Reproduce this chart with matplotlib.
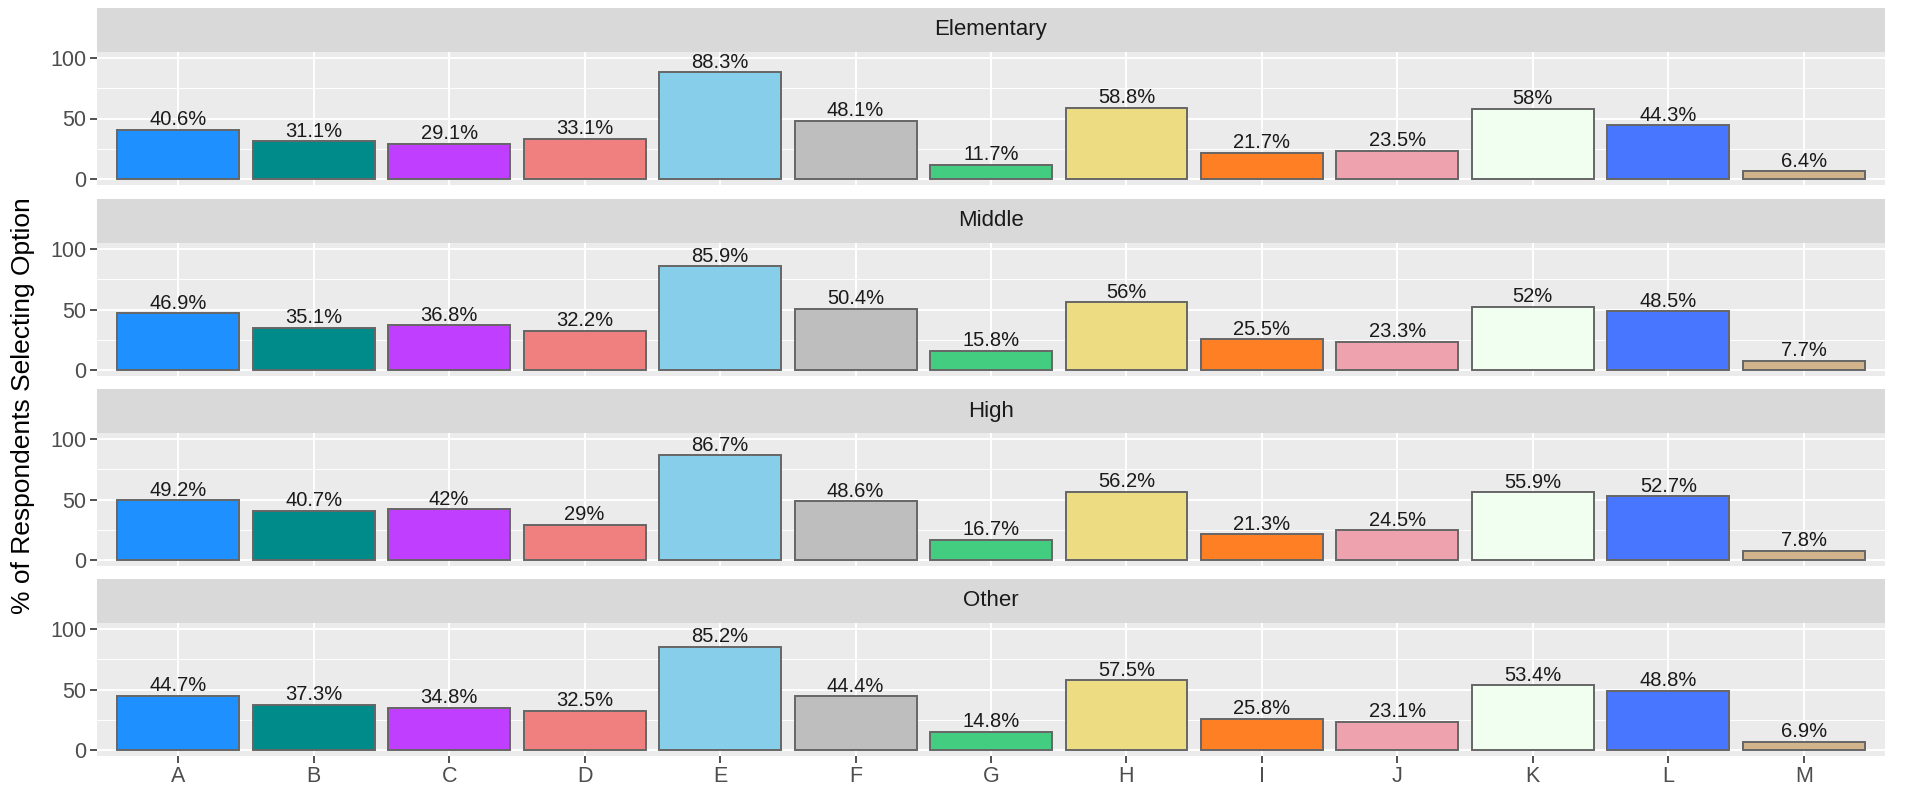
import matplotlib
matplotlib.use("Agg")
from matplotlib import pyplot as plt
import numpy as np

plt.rcParams['font.family'] = ['Liberation Sans', 'DejaVu Sans']

options = ["A", "B", "C", "D", "E", "F", "G", "H", "I", "J", "K", "L", "M"]
levels = ["Elementary", "Middle", "High", "Other"]

elementary = [40.6, 31.1, 29.1, 33.1, 88.3, 48.1, 11.7, 58.8, 21.7, 23.5, 58, 44.3, 6.4]
middle = [46.9, 35.1, 36.8, 32.2, 85.9, 50.4, 15.8, 56, 25.5, 23.3, 52, 48.5, 7.7]
high = [49.2, 40.7, 42, 29, 86.7, 48.6, 16.7, 56.2, 21.3, 24.5, 55.9, 52.7, 7.8]
other = [44.7, 37.3, 34.8, 32.5, 85.2, 44.4, 14.8, 57.5, 25.8, 23.1, 53.4, 48.8, 6.9]

bar_colors = ["#1E90FF", "#008B8B", "#BF3EFF", "#F08080", "#87CEEB", "#BEBEBE",
              "#43CD80", "#EEDC82", "#FF7F24", "#EEA2AD", "#F0FFF0", "#4876FF", "#D2B48C"]

W, H = 1909, 790
fig = plt.figure(figsize=(W / 100, H / 100), dpi=100)

left = 97 / W
width = (1885 - 97) / W
panel_h = 133 / H
strip_h = 44 / H
panel_bottoms = [185, 376, 566, 756]

x = np.arange(len(options))
for i, (name, vals) in enumerate(zip(levels, [elementary, middle, high, other])):
    bottom = 1 - panel_bottoms[i] / H
    ax = fig.add_axes([left, bottom, width, panel_h])
    ax.set_facecolor("#EBEBEB")
    ax.bar(x, vals, width=0.9, color=bar_colors, edgecolor="#666666", linewidth=1.4, zorder=3)
    for xi, v in zip(x, vals):
        ax.annotate(f"{v:g}%", (xi, v), xytext=(0, 3.3), textcoords="offset points",
                    ha="center", va="baseline", fontsize=14.5, color="#1A1A1A", zorder=4)
    ax.set_xlim(-0.6, len(options) - 0.4)
    ax.set_ylim(-5, 105)
    ax.set_yticks([0, 50, 100])
    ax.set_yticks([25, 75], minor=True)
    ax.set_xticks(x)
    ax.grid(True, which="major", color="white", linewidth=1.4, zorder=0)
    ax.grid(True, which="minor", axis="y", color="white", linewidth=0.7, zorder=0)
    for s in ax.spines.values():
        s.set_visible(False)
    ax.tick_params(axis="both", which="major", length=5, color="#333333", width=1.2,
                   labelsize=15.5, labelcolor="#4D4D4D", pad=2.5)
    ax.tick_params(axis="y", which="minor", length=0)
    if i < 3:
        ax.set_xticklabels([])
        ax.tick_params(axis="x", length=0)
    else:
        ax.set_xticklabels(options)

    # facet strip above the panel
    sax = fig.add_axes([left, bottom + panel_h, width, strip_h])
    sax.set_facecolor("#D9D9D9")
    sax.set_xticks([])
    sax.set_yticks([])
    for s in sax.spines.values():
        s.set_visible(False)
    sax.text(0.5, 0.5, name, ha="center", va="center", fontsize=16, color="#1A1A1A",
             transform=sax.transAxes)

fig.text(0.012, 0.487, "% of Respondents Selecting Option", rotation=90,
         ha="center", va="center", fontsize=19, color="black")

fig.savefig("out.png", dpi=100)
